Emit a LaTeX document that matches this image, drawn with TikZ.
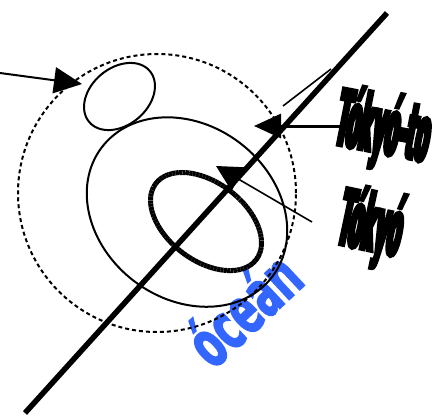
\documentclass[tikz,border=0pt]{standalone}
\usepackage{fontspec}
\usetikzlibrary{arrows.meta}
\newfontfamily\tokyofont[FakeStretch=0.25,FakeBold=4.5]{DejaVu Sans Bold}
\newfontfamily\oceanfont[FakeStretch=0.58,FakeBold=2]{DejaVu Sans Bold}
\definecolor{oceanblue}{RGB}{51,102,255}
\tikzset{
  dotring/.style={line width=2pt, dash pattern=on 4pt off 3pt},
  thinring/.style={line width=2pt},
  heavyring/.style={line width=5pt, dash pattern=on 3pt off 0.4pt},
  axisline/.style={line width=5.5pt},
  lbl/.style={inner sep=0pt, anchor=base},
}
\begin{document}
\begin{tikzpicture}[x=1pt,y=-1pt]
\useasboundingbox (0,0) rectangle (432,416);
% centres
\coordinate (dc) at (157,193);
\coordinate (sc) at (119.5,96.5);
\coordinate (mc) at (187,212);
\coordinate (hc) at (206,221.5);
% text first (shapes pass over it)
\node[lbl, font={\oceanfont\fontsize{66}{66}\selectfont}, text=oceanblue, rotate=43] (ocean) at (260,327) {óceán};
\node[lbl, font={\tokyofont\fontsize{78}{78}\selectfont}, rotate=-11] (tokyoto) at (379,153) {Tókyó-to};
\node[lbl, font={\tokyofont\fontsize{78}{78}\selectfont}, rotate=-12] (tokyo) at (366,250) {Tókyó};
% rings
\draw[dotring] (dc) circle [radius=139pt];
\draw[thinring, rotate around={40:(sc)}] (sc) ellipse [x radius=39.6pt, y radius=28.6pt];
\draw[thinring, rotate around={-37:(mc)}] (mc) ellipse [x radius=107pt, y radius=87pt];
\draw[heavyring, rotate around={-37:(hc)}] (hc) ellipse [x radius=63pt, y radius=39pt];
% arrows
\coordinate (la) at (0,73);
\coordinate (lt) at (82,84);
\draw[line width=2pt, -{Triangle[length=28pt,width=26pt]}] (la) -- (lt);
\coordinate (ta) at (345,126);
\coordinate (tt) at (254,126);
\draw[line width=3pt, -{Triangle[length=27pt,width=24pt]}] (ta) -- (tt);
\coordinate (ka) at (312,222);
\coordinate (kt) at (216,166);
\draw[line width=1.6pt, -{Triangle[length=26pt,width=27pt]}] (ka) -- (kt);
\coordinate (q1) at (283,106);
\coordinate (q2) at (331,69);
\draw[line width=1.6pt] (q1) -- (q2);
% thick axis
\coordinate (ax1) at (25,413);
\coordinate (ax2) at (387,13);
\draw[axisline] (ax1) -- (ax2);
\end{tikzpicture}
\end{document}
